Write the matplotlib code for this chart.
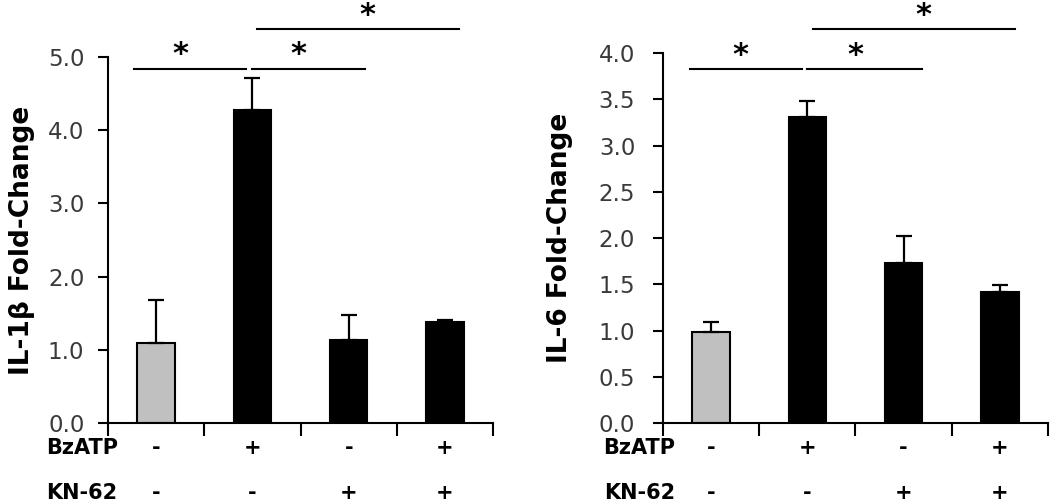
import matplotlib
matplotlib.use('Agg')
import matplotlib.pyplot as plt
import numpy as np

# data
groups = ['ctrl', 'BzATP', 'KN-62', 'BzATP+KN-62']
bzatp = ['-', '+', '-', '+']
kn62 = ['-', '-', '+', '+']

il1b_mean = [1.09, 4.28, 1.13, 1.38]
il1b_err = [0.59, 0.43, 0.35, 0.03]

il6_mean = [0.98, 3.31, 1.73, 1.42]
il6_err = [0.11, 0.17, 0.29, 0.07]

bar_colors = ['#c0c0c0', 'black', 'black', 'black']

# significance brackets: (x start, x end, star x, level)
il1b_sig = [(-0.23, 0.93, 0.25, 0), (1.0, 2.17, 1.48, 0), (1.05, 3.15, 2.19, 1)]
il6_sig = [(-0.22, 0.94, 0.3, 0), (1.0, 2.19, 1.5, 0), (1.06, 3.16, 2.2, 1)]


def panel(ax, means, errs, ymax, step, ylabel, sig, line_y, star_y, lab_x, ylab_x, pad):
    x = np.arange(len(means))
    ax.bar(x, means, width=0.39, color=bar_colors, edgecolor='black', linewidth=1.5,
           yerr=[np.zeros(len(errs)), errs], capsize=6,
           error_kw=dict(elinewidth=1.6, capthick=1.6, ecolor='black'))
    ax.set_xlim(-0.5, len(means) - 0.5)
    ax.set_ylim(0, ymax)
    ax.set_yticks(np.arange(0, ymax + step / 2, step))
    ax.set_yticklabels(['%.1f' % v for v in np.arange(0, ymax + step / 2, step)])
    ax.set_xticks(np.arange(-0.5, len(means), 1.0))
    ax.set_xticklabels([])
    for s in ['top', 'right']:
        ax.spines[s].set_visible(False)
    for s in ['left', 'bottom']:
        ax.spines[s].set_linewidth(1.5)
    ax.tick_params(axis='y', direction='out', length=7, width=1.5, labelsize=16.5,
                   labelcolor='#3a3a3a', pad=pad)
    ax.tick_params(axis='x', direction='out', length=9, width=1.5)
    ax.set_ylabel(ylabel, fontsize=19, fontweight='bold')
    ax.yaxis.set_label_coords(ylab_x, 0.5)

    # treatment rows below the axis
    trans = ax.get_xaxis_transform()
    ax.text(lab_x, -0.068, 'BzATP', transform=trans, ha='right', va='center',
            fontsize=15, fontweight='bold')
    ax.text(lab_x, -0.19, 'KN-62', transform=trans, ha='right', va='center',
            fontsize=15, fontweight='bold')
    for i in range(len(means)):
        ax.text(x[i], -0.068, bzatp[i], transform=trans, ha='center', va='center',
                fontsize=15, fontweight='bold')
        ax.text(x[i], -0.19, kn62[i], transform=trans, ha='center', va='center',
                fontsize=15, fontweight='bold')

    # significance bars
    for x0, x1, xs, lev in sig:
        ax.plot([x0, x1], [line_y[lev], line_y[lev]], color='black', lw=1.5, clip_on=False)
        ax.text(xs, star_y[lev], '*', ha='center', va='center', fontsize=22,
                fontweight='bold', clip_on=False)


fig = plt.figure(figsize=(10.5, 5.03), dpi=100)
ax1 = fig.add_axes([0.1029, 0.159, 0.3667, 0.7277])
ax2 = fig.add_axes([0.6314, 0.159, 0.3667, 0.7356])

panel(ax1, il1b_mean, il1b_err, 5.0, 1.0, 'IL-1β Fold-Change', il1b_sig,
      [4.84, 5.38], [5.03, 5.56], -0.4, -0.19, 10)
panel(ax2, il6_mean, il6_err, 4.0, 0.5, 'IL-6 Fold-Change', il6_sig,
      [3.83, 4.26], [3.97, 4.41], -0.37, -0.234, 13)

fig.savefig('out.png', dpi=100)
